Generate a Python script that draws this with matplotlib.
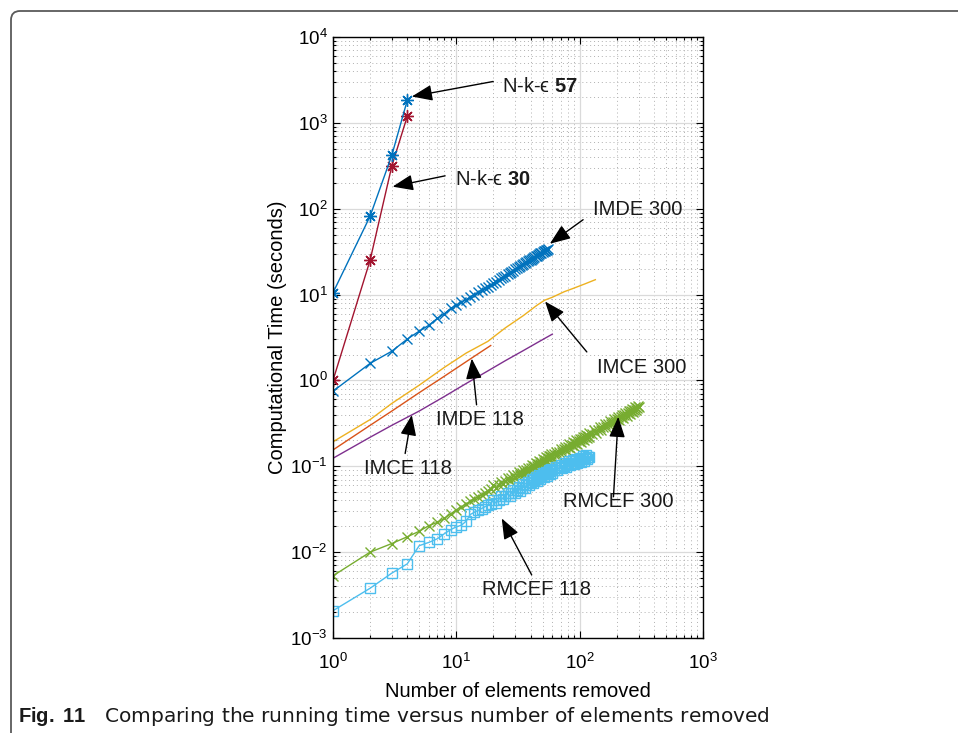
import matplotlib
matplotlib.use('Agg')
import matplotlib.pyplot as plt
from matplotlib.patches import FancyBboxPatch
from matplotlib.transforms import IdentityTransform

plt.rcParams['font.family'] = ['Liberation Sans', 'DejaVu Sans']
plt.rcParams['mathtext.fontset'] = 'custom'
plt.rcParams['mathtext.rm'] = 'Liberation Sans'
plt.rcParams['mathtext.it'] = 'Liberation Sans:italic'
plt.rcParams['mathtext.bf'] = 'Liberation Sans:bold'
plt.rcParams['axes.unicode_minus'] = False

# --- data (x = elements removed, y = seconds) ---
nk57_n = [1, 2, 3, 4]
nk57_t = [10.5, 82, 420, 1830]

nk30_n = [1, 2, 3, 4]
nk30_t = [1.0, 25.2, 315, 1190]

imde300_n = list(range(1, 56))
imde300_t = [0.75, 1.58, 2.19, 3.03, 3.75, 4.40, 5.27, 6.00, 6.90, 7.50,
             8.13, 8.76, 9.37, 9.98, 10.6, 11.2, 11.8, 12.4, 12.9, 13.5,
             14.1, 14.7, 15.4, 16.0, 16.6, 17.2, 17.8, 18.4, 19.0, 19.6,
             20.2, 20.8, 21.4, 22.0, 22.6, 23.2, 23.8, 24.4, 25.0, 25.6,
             26.2, 26.7, 27.3, 27.9, 28.4, 29.0, 29.6, 30.1, 30.7, 31.2,
             31.8, 32.3, 32.9, 33.4, 34.0]

imce300_n = [1, 2, 3, 5, 8, 12, 18, 25, 35, 45, 52, 60, 75, 90, 110, 134]
imce300_t = [0.193, 0.35, 0.54, 0.88, 1.42, 2.08, 2.85, 4.1, 5.7, 7.5,
             8.6, 9.3, 10.8, 11.9, 13.3, 14.9]

imde118_n = [1, 2, 3, 5, 8, 12, 16, 19]
imde118_t = [0.155, 0.30, 0.44, 0.72, 1.12, 1.65, 2.17, 2.55]

imce118_n = [1, 2, 3, 5, 8, 12, 18, 25, 35, 45, 60]
imce118_t = [0.124, 0.218, 0.30, 0.44, 0.65, 0.92, 1.29, 1.70, 2.23, 2.74, 3.46]

rm300_n = (list(range(1, 61)) + list(range(62, 121, 2))
           + list(range(125, 301, 5)))
rm300_t = [0.0053, 0.0100, 0.0126, 0.0151, 0.0175, 0.0204, 0.0222, 0.0247, 0.0280, 0.0310,
           0.0337, 0.0364, 0.0391, 0.0417, 0.0443, 0.0469, 0.0494, 0.0520, 0.0545, 0.0599,
           0.0561, 0.0612, 0.0664, 0.0619, 0.0672, 0.0727, 0.0676, 0.0731, 0.0788, 0.0732,
           0.0789, 0.0848, 0.0786, 0.0845, 0.0906, 0.0837, 0.0900, 0.0966, 0.0893, 0.0959,
           0.1028, 0.0949, 0.1018, 0.1089, 0.1004, 0.1076, 0.1150, 0.1058, 0.1133, 0.1210,
           0.1112, 0.1190, 0.1269, 0.1166, 0.1246, 0.1327, 0.1219, 0.1301, 0.1386, 0.1273,
           0.1375, 0.1479, 0.1371, 0.1477, 0.1587, 0.1468, 0.1578, 0.1692, 0.1562, 0.1677,
           0.1796, 0.1655, 0.1774, 0.1896, 0.1746, 0.1870, 0.1997, 0.1836, 0.1965, 0.2100,
           0.1931, 0.2066, 0.2204, 0.2025, 0.2165, 0.2307, 0.2119, 0.2262, 0.2410, 0.2211,
           0.2407, 0.2611, 0.2438, 0.2644, 0.2859, 0.2660, 0.2875, 0.3098, 0.2873, 0.3098,
           0.3330, 0.3082, 0.3316, 0.3558, 0.3287, 0.3532, 0.3783, 0.3490, 0.3744, 0.4005,
           0.3690, 0.3953, 0.4224, 0.3887, 0.4160, 0.4440, 0.4082, 0.4365, 0.4654, 0.4275,
           0.4567, 0.4865, 0.4465, 0.4767, 0.5075, 0.4900]

rm118_n = list(range(1, 61)) + list(range(62, 119, 2))
rm118_t = [0.00208, 0.0038, 0.0057, 0.0073, 0.0119, 0.0130, 0.0143, 0.0164, 0.0183, 0.0197,
           0.0206, 0.0229, 0.0275, 0.0291, 0.0306, 0.0322, 0.0337, 0.0352, 0.0366, 0.0404,
           0.0371, 0.0409, 0.0448, 0.0411, 0.0451, 0.0493, 0.0448, 0.0490, 0.0532, 0.0483,
           0.0527, 0.0572, 0.0520, 0.0566, 0.0617, 0.0562, 0.0611, 0.0663, 0.0600, 0.0652,
           0.0705, 0.0637, 0.0691, 0.0747, 0.0675, 0.0731, 0.0788, 0.0711, 0.0767, 0.0826,
           0.0744, 0.0803, 0.0863, 0.0776, 0.0837, 0.0900, 0.0808, 0.0871, 0.0935, 0.0840,
           0.0912, 0.0985, 0.0894, 0.0973, 0.1047, 0.0943, 0.1018, 0.1094, 0.0983, 0.1060,
           0.1138, 0.1023, 0.1102, 0.1182, 0.1061, 0.1142, 0.1224, 0.1098, 0.1181, 0.1265,
           0.1133, 0.1217, 0.1304, 0.1167, 0.1254, 0.1341, 0.1200, 0.1289, 0.1300]

c_blue = '#0072BD'
c_red = '#A2142F'
c_yellow = '#EDB120'
c_orange = '#D95319'
c_purple = '#7E2F8E'
c_green = '#77AC30'
c_cyan = '#4DBEEE'

fig = plt.figure(figsize=(9.58, 7.33), dpi=100)
ax = fig.add_axes([333 / 958, 1 - 638 / 733, 370 / 958, 601 / 733])

star = (8, 2, 0)
ax.plot(rm300_n, rm300_t, color=c_green, lw=1.0, marker='x', ms=7.5, mew=1.0)
ax.plot(rm118_n, rm118_t, color=c_cyan, lw=1.0, marker='s', ms=6.5, mew=1.0,
        mfc='none')
ax.plot(imce118_n, imce118_t, color=c_purple, lw=1.0)
ax.plot(imde118_n, imde118_t, color=c_orange, lw=1.0)
ax.plot(imce300_n, imce300_t, color=c_yellow, lw=1.0)
ax.plot(imde300_n, imde300_t, color=c_blue, lw=1.0, marker='x', ms=7.5, mew=1.0)
ax.plot(nk30_n, nk30_t, color=c_red, lw=1.0, marker=star, ms=9, mew=1.0)
ax.plot(nk57_n, nk57_t, color=c_blue, lw=1.0, marker=star, ms=9, mew=1.0)

ax.set_xscale('log')
ax.set_yscale('log')
ax.set_xlim(1, 1e3)
ax.set_ylim(1e-3, 1e4)

ax.grid(which='major', color='#dadada', lw=0.9)
ax.grid(which='minor', color='#b0b0b0', lw=0.7, ls=(0, (1, 3)))
ax.set_axisbelow(True)
ax.tick_params(which='both', direction='in', top=True, right=True,
               labelsize=13.5, width=0.8)
ax.tick_params(which='major', length=5)
ax.tick_params(which='minor', length=2.5)
ax.tick_params(axis='x', pad=11)
ax.tick_params(axis='y', pad=4)
for s in ax.spines.values():
    s.set_linewidth(1.0)

ax.set_xlabel('Number of elements removed', fontsize=14.5)
ax.xaxis.set_label_coords(0.5, -0.074)
ax.set_ylabel('Computational Time (seconds)', fontsize=14.5)
ax.yaxis.set_label_coords(-0.125, 0.5)

# label text, text pos, arrow tail, arrow head (axes fraction)
notes = [
    ('N-k-\u03f5 $\\mathbf{57}$', (0.456, 0.917), (0.433, 0.926), (0.213, 0.901)),
    ('N-k-\u03f5 $\\mathbf{30}$', (0.330, 0.763), (0.303, 0.769), (0.161, 0.751)),
    ('IMDE 300', (0.704, 0.713), (0.676, 0.696), (0.586, 0.656)),
    ('IMCE 300', (0.713, 0.450), (0.686, 0.476), (0.573, 0.560)),
    ('IMDE 118', (0.278, 0.363), (0.388, 0.388), (0.375, 0.465)),
    ('IMCE 118', (0.084, 0.282), (0.195, 0.307), (0.213, 0.371)),
    ('RMCEF 300', (0.622, 0.227), (0.758, 0.235), (0.771, 0.368)),
    ('RMCEF 118', (0.402, 0.080), (0.537, 0.105), (0.456, 0.199)),
]
for label, tpos, tail, head in notes:
    ax.text(tpos[0], tpos[1], label, transform=ax.transAxes, fontsize=14.5,
            ha='left', va='center', color='#1a1a1a')
    ax.annotate('', xy=head, xycoords='axes fraction', xytext=tail,
                textcoords='axes fraction',
                arrowprops=dict(arrowstyle='-|>,head_length=0.9,head_width=0.35',
                                color='black', lw=1.0, shrinkA=0, shrinkB=0,
                                mutation_scale=14))

# caption (one text line) and page frame
fig.text(18 / 958, 1 - 716 / 733,
         r'$\mathbf{Fig.\ 11}$   Comparing the running time versus number of elements removed',
         fontsize=14.5, family='DejaVu Sans', va='center', color='#1a1a1a')
frame = FancyBboxPatch((11, -60), 1100, 733 - 11 + 60,
                       boxstyle='round,pad=0,rounding_size=9',
                       transform=IdentityTransform(), fill=False,
                       edgecolor='#5a5a5a', lw=1.3)
fig.patches.append(frame)

fig.savefig('out.png', dpi=100)
